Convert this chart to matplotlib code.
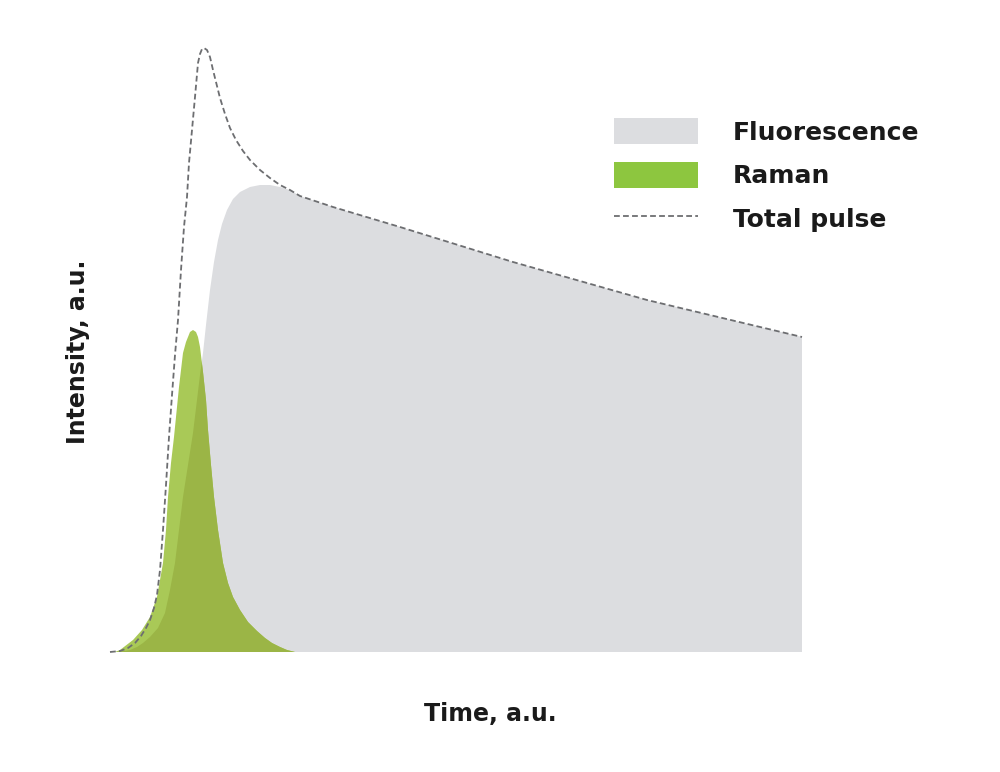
import matplotlib
matplotlib.use("Agg")
import matplotlib.pyplot as plt
from matplotlib.patches import Patch
from matplotlib.lines import Line2D

# ---- data (arbitrary units) ----
pulse_t = [0, 10, 18, 25, 31, 36, 40, 44, 47, 50, 53, 56, 59, 62, 65, 68, 71, 74, 77, 79,
           82, 85, 88, 90, 92, 94, 97, 100, 103, 107, 110, 115, 120, 126, 133, 140, 150,
           160, 170, 180, 190, 223, 290, 403, 537, 692]
pulse_i = [0, 1, 4, 9, 16, 24, 32, 44, 57, 82, 122, 167, 215, 257, 297, 332, 382, 425, 455, 489,
           522, 555, 589, 598, 603, 604, 602, 595, 582, 566, 554, 538, 524, 512, 501, 492, 482,
           474, 467, 462, 456, 445, 425, 390, 352, 315]

fluor_t = [5, 15, 20, 27, 33, 40, 48, 55, 60, 65, 69, 73, 78, 83, 87, 90, 93, 96, 100, 104,
           108, 112, 117, 123, 130, 140, 150, 160, 170, 180, 190, 223, 290, 403, 537, 692]
fluor_i = [0, 1, 2, 5, 9, 15, 24, 39, 62, 89, 122, 155, 187, 219, 252, 277, 299, 327, 362, 390,
           412, 428, 442, 453, 460, 465, 467, 467, 465, 462, 456, 445, 425, 390, 352, 315]

raman_t = [5, 10, 23, 32, 40, 47, 53, 56, 58, 61, 64, 69, 73, 76, 78, 80, 83, 86, 88, 90,
           93, 96, 98, 101, 104, 108, 113, 118, 123, 130, 138, 147, 155, 162, 170, 177, 185]
raman_i = [0, 2, 12, 22, 35, 55, 89, 122, 155, 189, 215, 265, 299, 310, 315, 320, 322, 320, 315, 305,
           280, 252, 222, 187, 155, 122, 89, 69, 55, 42, 30, 21, 14, 9, 5, 2, 0]

labels = ["Fluorescence", "Raman", "Total pulse"]
xlabel = "Time, a.u."
ylabel = "Intensity, a.u."

# ---- style ----
GREY = "#dcdde0"
GREEN_LIGHT = "#a9c957"
GREEN_DARK = "#9bb546"
GREEN_LEGEND = "#8dc63f"
DASH = "#6d6e71"
TEXT = "#1a1a1a"
FONT = ["DejaVu Sans"]
FS_LEG = 18
FS_AX = 17

plt.rcParams["font.family"] = FONT

fig = plt.figure(figsize=(10, 7.72), dpi=100)
ax = fig.add_axes([0.11, 120 / 772, 0.725, 630 / 772])
ax.set_xlim(0, 725)
ax.set_ylim(0, 630)
ax.axis("off")

# fluorescence area (closed down to the baseline at the right end)
fl_x = fluor_t + [fluor_t[-1]]
fl_y = fluor_i + [0]
fl_poly = ax.fill(fl_x, fl_y, color=GREY, lw=0, zorder=1)[0]

# Raman area: light where alone, darker where it overlaps fluorescence
ax.fill(raman_t, raman_i, color=GREEN_LIGHT, lw=0, zorder=2)
dark = ax.fill(raman_t, raman_i, color=GREEN_DARK, lw=0, zorder=3)[0]
dark.set_clip_path(fl_poly)

# total pulse
ax.plot(pulse_t, pulse_i, color=DASH, lw=1.3, dashes=(3.2, 1.8), zorder=4,
        solid_capstyle="butt", clip_on=False)

# legend
fs_px = FS_LEG * 100 / 72
handles = [Patch(facecolor=GREY, edgecolor="none"),
           Patch(facecolor=GREEN_LEGEND, edgecolor="none"),
           Line2D([0], [0], color=DASH, lw=1.3, dashes=(3.2, 1.8))]
leg = fig.legend(handles, labels, loc="upper left", bbox_to_anchor=(614 / 1000, 1 - 118 / 772),
                 frameon=False, borderpad=0, borderaxespad=0,
                 handlelength=84 / fs_px, handleheight=31 / fs_px, handletextpad=35 / fs_px,
                 labelspacing=17 / fs_px,
                 prop={"family": FONT, "weight": "bold", "size": FS_LEG})
for t in leg.get_texts():
    t.set_color(TEXT)

fig.text(0.49, 1 - 714 / 772, xlabel, ha="center", va="center", fontsize=FS_AX,
         fontweight="bold", color=TEXT)
fig.text(0.078, 1 - 352 / 772, ylabel, ha="center", va="center", rotation=90, fontsize=FS_AX,
         fontweight="bold", color=TEXT)

fig.savefig("out.png", dpi=100, facecolor="white")
